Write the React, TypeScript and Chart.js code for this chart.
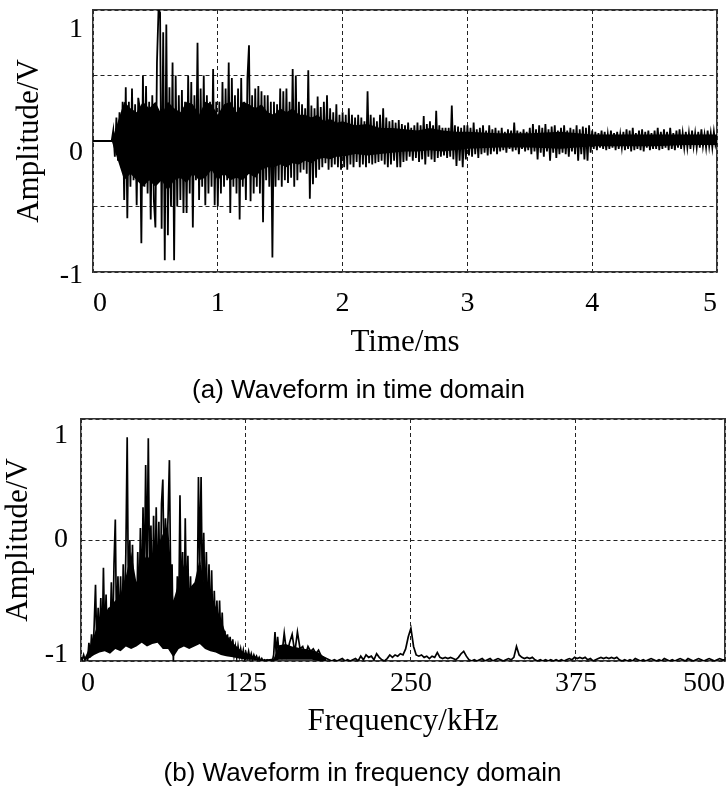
import React, { useEffect, useRef } from 'react';
import { Chart, registerables } from 'chart.js';

Chart.register(...registerables);

// ---------------- (a) time domain ----------------
const TIME_STEP_MS = 0.0125;
const WAVE_AMPLITUDE: number[] = [
  0, 0, 0, 0, 0, 0, 0, 0, 0, 0, 0, 0, 0, 0.08, -0.12, 0.18, -0.15, 0.22, -0.2, 0.3,
  -0.45, 0.41, -0.59, 0.3, -0.35, 0.4, -0.3, 0.28, -0.49, 0.33, 0.25, -0.78, 0.5, -0.35, 0.42, -0.4, 0.3, -0.6, 0.35, -0.45,
  -0.66, 0.6, 1.0, 0.98, -0.67, 0.83, -0.91, 0.89, -0.72, 0.41, -0.5, 0.6, -0.91, 0.5, -0.5, 0.35, -0.45, 0.39, -0.55, 0.3,
  -0.55, 0.5, -0.4, 0.45, -0.66, 0.35, -0.3, 0.75, -0.45, 0.4, -0.35, 0.5, -0.49, 0.35, -0.4, 0.3, -0.35, 0.55, -0.49, 0.3,
  -0.5, 0.3, -0.4, 0.45, -0.35, 0.4, -0.3, 0.6, -0.55, 0.48, -0.35, 0.35, -0.4, 0.4, -0.6, 0.48, -0.35, 0.3, -0.45, 0.48,
  0.73, -0.46, 0.35, -0.4, 0.4, -0.35, 0.42, -0.4, 0.38, -0.62, 0.35, -0.3, 0.35, -0.35, 0.3, -0.89, 0.3, -0.35, 0.28, -0.3,
  0.4, -0.35, 0.38, -0.3, 0.4, -0.32, 0.3, -0.28, 0.55, -0.35, 0.5, -0.3, 0.3, -0.24, 0.28, -0.22, 0.25, -0.25, 0.54, -0.44,
  0.27, -0.33, 0.25, -0.28, 0.34, -0.22, 0.26, -0.2, 0.3, -0.17, 0.35, -0.22, 0.25, -0.2, 0.22, -0.18, 0.28, -0.2, 0.2, -0.22,
  0.22, -0.2, 0.2, -0.22, 0.25, -0.18, 0.2, -0.2, 0.18, -0.16, 0.2, -0.2, 0.18, -0.18, 0.15, -0.2, 0.38, -0.17, 0.2, -0.18,
  0.18, -0.17, 0.15, -0.16, 0.2, -0.15, 0.25, -0.18, 0.18, -0.2, 0.15, -0.18, 0.16, -0.15, 0.14, -0.2, 0.16, -0.2, 0.13, -0.16,
  0.12, -0.15, 0.14, -0.12, 0.1, -0.15, 0.12, -0.13, 0.14, -0.16, 0.12, -0.14, 0.19, -0.18, 0.13, -0.12, 0.15, -0.14, 0.12, -0.16,
  0.23, -0.13, 0.12, -0.12, 0.1, -0.11, 0.1, -0.13, 0.1, -0.12, 0.27, -0.14, 0.12, -0.19, 0.11, -0.15, 0.1, -0.2, 0.12, -0.14,
  0.12, -0.11, 0.1, -0.12, 0.14, -0.1, 0.09, -0.13, 0.1, -0.1, 0.12, -0.09, 0.08, -0.11, 0.12, -0.1, 0.09, -0.08, 0.1, -0.1,
  0.08, -0.08, 0.1, -0.07, 0.07, -0.09, 0.09, -0.06, 0.08, -0.08, 0.14, -0.07, 0.08, -0.1, 0.07, -0.06, 0.09, -0.08, 0.07, -0.07,
  0.1, -0.1, 0.13, -0.08, 0.09, -0.14, 0.12, -0.09, 0.1, -0.12, 0.13, -0.08, 0.09, -0.15, 0.11, -0.09, 0.12, -0.13, 0.08, -0.1,
  0.1, -0.09, 0.12, -0.1, 0.08, -0.12, 0.1, -0.08, 0.09, -0.1, 0.12, -0.15, 0.09, -0.1, 0.11, -0.14, 0.1, -0.15, 0.12, -0.09,
  0.08, -0.06, 0.07, -0.07, 0.06, -0.05, 0.08, -0.06, 0.07, -0.07, 0.05, -0.06, 0.08, -0.05, 0.06, -0.07, 0.07, -0.06, 0.05, -0.05,
  0.07, -0.07, 0.09, -0.06, 0.08, -0.08, 0.1, -0.07, 0.06, -0.06, 0.08, -0.07, 0.09, -0.08, 0.07, -0.05, 0.08, -0.07, 0.06, -0.06,
  0.08, -0.06, 0.1, -0.07, 0.07, -0.06, 0.09, -0.05, 0.07, -0.07, 0.1, -0.06, 0.06, -0.07, 0.08, -0.05, 0.09, -0.06, 0.06, -0.05,
  0.07, -0.05, 0.06, -0.06, 0.08, -0.04, 0.06, -0.05, 0.07, -0.05, 0.09, -0.04, 0.05, -0.05, 0.08, -0.04, 0.06, -0.05, 0.07, -0.03,
  0.02,
];
// dense (solid-looking) core band of the oscillation
const WAVE_CORE_T = [
  0.15, 0.2, 0.25, 0.3, 0.35, 0.4, 0.45, 0.5, 0.55, 0.6, 0.65, 0.7, 0.75, 0.8, 0.85, 0.9, 0.95, 1.0,
  1.05, 1.1, 1.15, 1.2, 1.25, 1.3, 1.35, 1.4, 1.45, 1.5, 1.55, 1.6, 1.65, 1.7, 1.75, 1.8, 1.85, 1.9, 1.95, 2.0,
  2.1, 2.2, 2.3, 2.4, 2.5, 2.6, 2.7, 2.8, 2.9, 3.0, 3.25, 3.5, 3.75, 4.0, 4.25, 4.5, 4.75, 5.0,
];
const WAVE_CORE_UPPER = [
  0.0, 0.15, 0.3, 0.25, 0.22, 0.3, 0.25, 0.3, 0.2, 0.3, 0.25, 0.22, 0.3, 0.28, 0.2, 0.3, 0.28, 0.2,
  0.28, 0.3, 0.22, 0.3, 0.28, 0.25, 0.28, 0.22, 0.2, 0.25, 0.22, 0.25, 0.2, 0.2, 0.18, 0.2, 0.15, 0.17, 0.14, 0.15,
  0.12, 0.13, 0.1, 0.1, 0.09, 0.08, 0.1, 0.08, 0.07, 0.07, 0.06, 0.06, 0.07, 0.05, 0.05, 0.05, 0.05, 0.05,
];
const WAVE_CORE_LOWER = [
  0.0, -0.15, -0.3, -0.25, -0.3, -0.35, -0.3, -0.35, -0.3, -0.38, -0.3, -0.28, -0.32, -0.25, -0.3, -0.28, -0.22, -0.3,
  -0.25, -0.3, -0.28, -0.3, -0.25, -0.28, -0.22, -0.2, -0.2, -0.18, -0.2, -0.17, -0.18, -0.15, -0.17, -0.14, -0.13, -0.14, -0.12, -0.12,
  -0.1, -0.11, -0.1, -0.09, -0.08, -0.08, -0.07, -0.08, -0.07, -0.06, -0.05, -0.05, -0.06, -0.04, -0.04, -0.04, -0.03, -0.03,
];

const TIME_X_MAX = 5;
const TIME_X_TICKS = [0, 1, 2, 3, 4, 5];
const TIME_X_TICK_LABELS = ['0', '1', '2', '3', '4', '5'];
const TIME_Y_GRID_STEP = 0.5;
const TIME_Y_LABELS = ['1', '0', '-1'];
const TIME_Y_LABEL_AT = [0.85, -0.09, -1.03];

// ---------------- (b) frequency domain ----------------
const SPEC_FINE_START_KHZ = 0;
const SPEC_FINE_STEP_KHZ = 1;
const SPEC_FINE: number[] = [
  -0.97, -0.99, -0.95, -0.99, -0.97, -0.99, -0.85, -0.97, -0.78, -0.95,
  -0.7, -0.37, -0.9, -0.56, -0.85, -0.48, -0.9, -0.23, -0.85, -0.45,
  -0.9, -0.56, -0.8, -0.35, -0.88, -0.2, 0.17, -0.85, -0.3, -0.75,
  -0.3, -0.8, -0.2, -0.7, -0.1, 0.85, -0.6, 0.0, -0.7, -0.04,
  -0.65, -0.35, -0.85, -0.1, -0.6, 0.1, -0.55, 0.27, -0.4, 0.62,
  -0.3, 0.84, -0.35, 0.12, -0.6, 0.2, -0.45, 0.27, -0.5, 0.15,
  -0.55, 0.3, 0.5, -0.3, 0.18, -0.1, 0.2, 0.66, -0.4, -0.2,
  -1.0, -0.5, -0.85, -0.3, -0.7, 0.37, -0.6, -0.1, -0.8, 0.18,
  -0.6, -0.13, -0.75, -0.3, -0.85, -0.43, -0.7, -0.35, -0.65, 0.52,
  -0.2, 0.52, -0.5, 0.06, -0.6, -0.1, -0.7, -0.2, -0.75, -0.25,
  -0.8, -0.42, -0.8, -0.5, -0.85, -0.5, -0.85, -0.6, -0.9, -0.75,
  -0.92, -0.78, -0.93, -0.8, -0.95, -0.82, -0.95, -0.88, -0.97, -0.88,
  -0.96, -0.9, -0.97, -0.91, -0.98, -0.93, -0.97, -0.92, -0.98, -0.94,
  -0.99, -0.95, -0.98, -0.96, -0.99, -0.97, -1.0, -0.98, -1.0, -0.99,
  -1.0, -0.99, -1.0, -1.0, -0.99, -1.0, -0.95, -0.76, -0.96, -0.8, -0.93,
];
const SPEC_COARSE_START_KHZ = 152;
const SPEC_COARSE_STEP_KHZ = 2;
const SPEC_COARSE: number[] = [
  -0.97, -0.77, -0.95, -0.85, -0.78, -0.93, -0.76, -0.9, -0.88, -0.95,
  -0.88, -0.92, -0.9, -0.94, -0.91, -0.96, -0.97, -0.98, -0.99, -1.0,
  -0.99, -1.0, -0.99, -0.98, -1.0, -0.99, -1.0, -0.99, -0.98, -1.0,
  -0.96, -0.99, -0.95, -0.97, -0.96, -0.99, -0.94, -0.97, -0.99, -1.0,
  -0.98, -0.95, -0.97, -0.95, -0.96, -0.94, -0.95, -0.9, -0.8, -0.73,
  -0.88, -0.95, -0.96, -0.95, -0.97, -0.96, -0.98, -0.96, -0.97, -0.93,
  -0.97, -0.98, -0.97, -0.98, -0.97, -0.98, -0.99, -0.97, -0.94, -0.92,
  -0.96, -0.99, -1.0, -0.99, -1.0, -0.99, -0.98, -1.0, -0.99, -0.98,
  -1.0, -0.99, -0.98, -0.99, -1.0, -0.99, -0.98, -0.99, -0.97, -0.88,
  -0.95, -0.97, -0.98, -0.97, -0.98, -0.97, -0.99, -1.0, -0.99, -1.0,
  -0.99, -1.0, -0.99, -1.0, -0.99, -1.0, -0.99, -1.0, -0.99, -0.98,
  -0.99, -0.97, -0.98, -0.97, -0.98, -0.97, -0.99, -0.98, -1.0, -0.99,
  -0.98, -0.97, -0.98, -0.97, -0.98, -0.97, -0.98, -0.97, -0.99, -1.0,
  -0.99, -1.0, -0.99, -1.0, -0.98, -0.99, -1.0, -0.99, -1.0, -0.99,
  -0.98, -0.99, -1.0, -0.99, -1.0, -0.98, -0.99, -1.0, -0.99, -1.0,
  -0.99, -0.98, -0.99, -1.0, -0.98, -0.99, -1.0, -0.99, -0.98, -0.99,
  -1.0, -0.99, -0.98, -0.99, -1.0, -0.99, -0.98, -0.99, -0.99,
];
// dense (solid-looking) core band of the spectrum
const SPEC_CORE_F = [
  3, 6, 10, 14, 18, 22, 26, 30, 34, 38, 42, 46, 50, 54, 58, 62, 66, 70, 74, 78, 82, 86, 90, 94, 98,
  102, 106, 110, 115, 120, 125, 130, 138, 146, 150, 155, 160, 165, 170, 175, 180, 186,
];
const SPEC_CORE_UPPER = [
  -0.97, -0.9, -0.78, -0.65, -0.6, -0.55, -0.5, -0.45, -0.3, -0.1, -0.35, -0.2, -0.12, -0.2, -0.05, 0.05, 0.12, -0.5, -0.35, -0.2, -0.4, -0.35, -0.15, -0.4, -0.45,
  -0.55, -0.65, -0.78, -0.85, -0.9, -0.94, -0.97, -0.99, -0.98, -0.87, -0.86, -0.88, -0.89, -0.9, -0.91, -0.93, -0.98,
];
const SPEC_CORE_LOWER = [
  -0.99, -0.98, -0.95, -0.93, -0.92, -0.94, -0.9, -0.92, -0.88, -0.9, -0.88, -0.85, -0.88, -0.86, -0.85, -0.9, -0.9, -0.97, -0.9, -0.88, -0.9, -0.88, -0.86, -0.9, -0.92,
  -0.93, -0.95, -0.96, -0.97, -0.98, -0.99, -0.99, -1.0, -1.0, -0.99, -0.99, -0.99, -0.99, -0.99, -0.99, -1.0, -1.0,
];

const FREQ_X_MAX = 488;
const FREQ_X_TICKS = [0, 125, 250, 375, 488];
const FREQ_X_TICK_LABELS = ['0', '125', '250', '375', '500'];
const FREQ_Y_GRID_STEP = 1;
const FREQ_Y_LABELS = ['1', '0', '-1'];
const FREQ_Y_LABEL_AT = [0.86, 0, -0.95];

// ---------------- shared styling ----------------
const SERIF = '"Liberation Serif", "Times New Roman", serif';
const SANS = '"Liberation Sans", Arial, sans-serif';
const INK = '#000';
const GRID_COLOR = '#222';
const FRAME_COLOR = '#333';
const GRID_DASH = [4, 3];

type Pt = { x: number; y: number };

type Panel = {
  points: Pt[];
  coreUpper: Pt[];
  coreLower: Pt[];
  lineWidth: number;
  xMax: number;
  xTicks: number[];
  xTickLabels: string[];
  yGridStep: number;
  yLabels: string[];
  yLabelAt: number[];
  xTitle: string;
  caption: string;
  padTop: number;
  padRight: number;
  leftWidth: number;
  yLabelPad: number;
  yTitlePad: number;
  xAxisHeight: number;
  xTickPad: number;
  xTitlePadBottom: number;
  capTop: number;
  capBottom: number;
};

const zipPts = (xs: number[], ys: number[]): Pt[] => xs.map((x, i) => ({ x, y: ys[i] }));

const timePoints: Pt[] = WAVE_AMPLITUDE.map((v, i) => ({ x: i * TIME_STEP_MS, y: v }));
const freqPoints: Pt[] = [
  ...SPEC_FINE.map((v, i) => ({ x: SPEC_FINE_START_KHZ + i * SPEC_FINE_STEP_KHZ, y: v })),
  ...SPEC_COARSE.map((v, i) => ({ x: SPEC_COARSE_START_KHZ + i * SPEC_COARSE_STEP_KHZ, y: v })),
];

const TIME_PANEL: Panel = {
  points: timePoints,
  coreUpper: zipPts(WAVE_CORE_T, WAVE_CORE_UPPER),
  coreLower: zipPts(WAVE_CORE_T, WAVE_CORE_LOWER),
  lineWidth: 1.8,
  xMax: TIME_X_MAX,
  xTicks: TIME_X_TICKS,
  xTickLabels: TIME_X_TICK_LABELS,
  yGridStep: TIME_Y_GRID_STEP,
  yLabels: TIME_Y_LABELS,
  yLabelAt: TIME_Y_LABEL_AT,
  xTitle: 'Time/ms',
  caption: '(a) Waveform in time domain',
  padTop: 10,
  padRight: 9,
  leftWidth: 93,
  yLabelPad: 10,
  yTitlePad: 11.4,
  xAxisHeight: 100,
  xTickPad: 15,
  xTitlePadBottom: 10.4,
  capTop: 6,
  capBottom: 1,
};

const FREQ_PANEL: Panel = {
  points: freqPoints,
  coreUpper: zipPts(SPEC_CORE_F, SPEC_CORE_UPPER),
  coreLower: zipPts(SPEC_CORE_F, SPEC_CORE_LOWER),
  lineWidth: 1.7,
  xMax: FREQ_X_MAX,
  xTicks: FREQ_X_TICKS,
  xTickLabels: FREQ_X_TICK_LABELS,
  yGridStep: FREQ_Y_GRID_STEP,
  yLabels: FREQ_Y_LABELS,
  yLabelAt: FREQ_Y_LABEL_AT,
  xTitle: 'Frequency/kHz',
  caption: '(b) Waveform in frequency domain',
  padTop: 14,
  padRight: 1,
  leftWidth: 81,
  yLabelPad: 13,
  yTitlePad: 0.6,
  xAxisHeight: 94,
  xTickPad: 6,
  xTitlePadBottom: 14.4,
  capTop: 6,
  capBottom: 0,
};

function makeChart(canvas: HTMLCanvasElement, p: Panel): Chart {
  const tickFont = { family: SERIF, size: 28 };
  const titleFont = { family: SERIF, size: 31 };
  const frame = { display: true, color: FRAME_COLOR, width: 1.5 };
  return new Chart(canvas, {
    type: 'line',
    data: {
      datasets: [
        {
          data: p.points as any,
          borderColor: INK,
          borderWidth: p.lineWidth,
          pointRadius: 0,
          tension: 0,
          fill: false,
          order: 0,
          xAxisID: 'x',
          yAxisID: 'y',
        },
        {
          data: p.coreUpper as any,
          borderColor: INK,
          borderWidth: 0,
          backgroundColor: INK,
          pointRadius: 0,
          tension: 0,
          fill: '+1',
          order: 1,
          xAxisID: 'x',
          yAxisID: 'y',
        },
        {
          data: p.coreLower as any,
          borderColor: INK,
          borderWidth: 0,
          backgroundColor: INK,
          pointRadius: 0,
          tension: 0,
          fill: false,
          order: 2,
          xAxisID: 'x',
          yAxisID: 'y',
        },
      ],
    },
    options: {
      animation: false,
      responsive: false,
      maintainAspectRatio: false,
      parsing: false,
      normalized: true,
      events: [],
      layout: { padding: { top: p.padTop, right: p.padRight, left: 0, bottom: 0 } },
      plugins: {
        legend: { display: false },
        tooltip: { enabled: false },
        filler: { propagate: false },
        title: {
          display: true,
          position: 'bottom',
          text: p.caption,
          color: INK,
          font: { family: SANS, size: 26, weight: 'normal', lineHeight: 1 },
          padding: { top: p.capTop, bottom: p.capBottom },
        },
      },
      scales: {
        x: {
          type: 'linear',
          position: 'bottom',
          min: 0,
          max: p.xMax,
          afterBuildTicks: (s: any) => {
            s.ticks = p.xTicks.map((v) => ({ value: v }));
          },
          ticks: {
            callback: (_v: any, i: number) => p.xTickLabels[i],
            align: 'inner',
            padding: p.xTickPad,
            autoSkip: false,
            maxRotation: 0,
            minRotation: 0,
            color: INK,
            font: tickFont,
          },
          grid: { color: GRID_COLOR, lineWidth: 1, drawTicks: false },
          border: { ...frame, dash: GRID_DASH },
          title: {
            display: true,
            text: p.xTitle,
            color: INK,
            font: titleFont,
            padding: { top: 0, bottom: p.xTitlePadBottom },
          },
          afterFit: (s: any) => {
            s.height = p.xAxisHeight;
            s.paddingLeft = 0;
            s.paddingRight = 0;
          },
        } as any,
        xTop: {
          type: 'linear',
          position: 'top',
          min: 0,
          max: p.xMax,
          ticks: { display: false },
          grid: { display: false, drawTicks: false },
          border: frame,
          afterFit: (s: any) => {
            s.height = 0;
            s.paddingLeft = 0;
            s.paddingRight = 0;
          },
        } as any,
        yl: {
          type: 'linear',
          position: 'left',
          weight: 1,
          min: -1,
          max: 1,
          afterBuildTicks: (s: any) => {
            s.ticks = p.yLabelAt.map((v) => ({ value: v }));
          },
          ticks: {
            callback: (_v: any, i: number) => p.yLabels[i],
            padding: p.yLabelPad,
            autoSkip: false,
            color: INK,
            font: tickFont,
          },
          grid: { display: false, drawTicks: false },
          border: { display: false },
          title: {
            display: true,
            text: 'Amplitude/V',
            color: INK,
            font: titleFont,
            padding: { top: p.yTitlePad, bottom: 0 },
          },
          afterFit: (s: any) => {
            s.width = p.leftWidth;
            s.paddingTop = 0;
            s.paddingBottom = 0;
          },
        } as any,
        y: {
          type: 'linear',
          position: 'left',
          weight: 0,
          min: -1,
          max: 1,
          ticks: { display: false, stepSize: p.yGridStep },
          grid: { color: GRID_COLOR, lineWidth: 1, drawTicks: false },
          border: { ...frame, dash: GRID_DASH },
          afterFit: (s: any) => {
            s.width = 0;
            s.paddingTop = 0;
            s.paddingBottom = 0;
          },
        } as any,
        yRight: {
          type: 'linear',
          position: 'right',
          min: -1,
          max: 1,
          ticks: { display: false },
          grid: { display: false, drawTicks: false },
          border: frame,
          afterFit: (s: any) => {
            s.width = 0;
            s.paddingTop = 0;
            s.paddingBottom = 0;
          },
        } as any,
      },
    } as any,
  });
}

export default function App() {
  const topRef = useRef<HTMLCanvasElement>(null);
  const botRef = useRef<HTMLCanvasElement>(null);

  useEffect(() => {
    const c1 = makeChart(topRef.current as HTMLCanvasElement, TIME_PANEL);
    const c2 = makeChart(botRef.current as HTMLCanvasElement, FREQ_PANEL);
    return () => {
      c1.destroy();
      c2.destroy();
    };
  }, []);

  return (
    <div
      style={{
        position: 'absolute',
        left: 0,
        top: 0,
        width: 726,
        height: 787,
        overflow: 'hidden',
        background: '#fff',
      }}
    >
      <canvas
        ref={topRef}
        width={726}
        height={405}
        style={{ position: 'absolute', left: 0, top: 0, width: 726, height: 405 }}
      />
      <canvas
        ref={botRef}
        width={726}
        height={382}
        style={{ position: 'absolute', left: 0, top: 405, width: 726, height: 382 }}
      />
    </div>
  );
}
